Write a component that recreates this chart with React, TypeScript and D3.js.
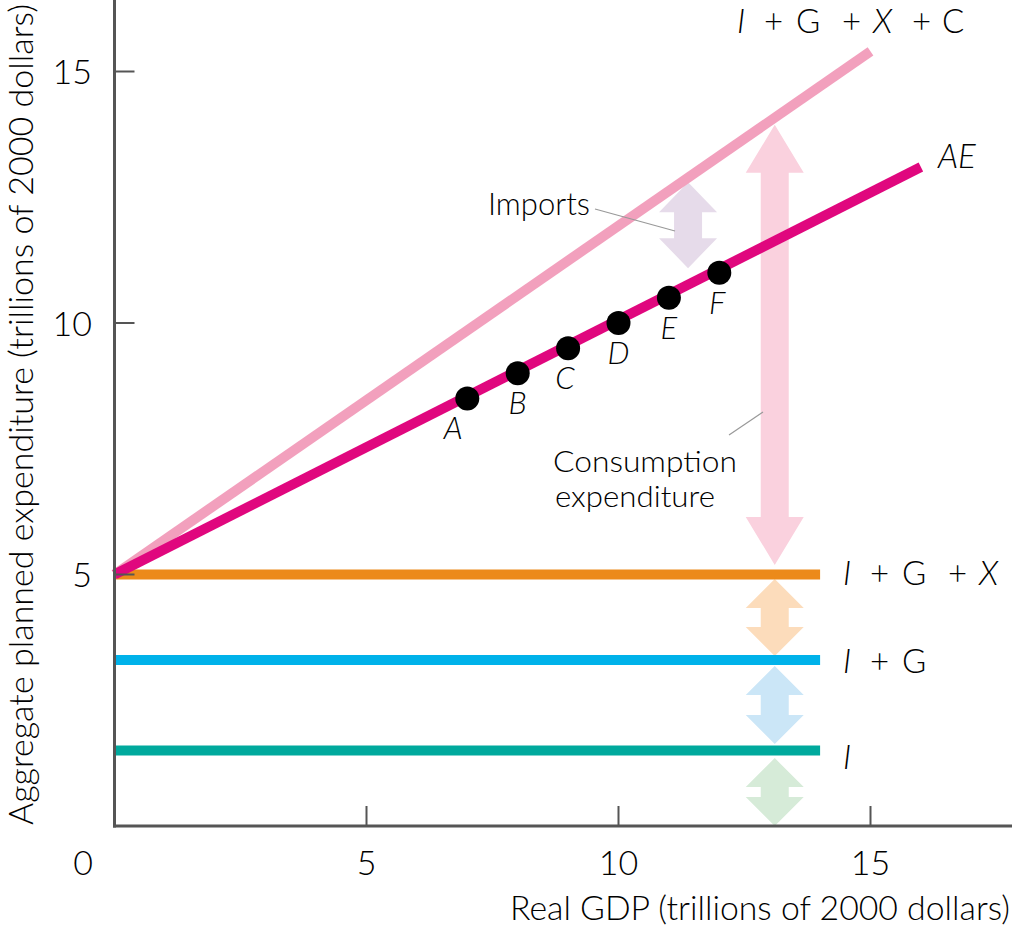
import React from "react";
import * as d3 from "d3";

// ---- data ----
const xTicks = [5, 10, 15];
const yTicks = [5, 10, 15];
const pointLabels = ["A", "B", "C", "D", "E", "F"];
const pointGDP = [7, 8, 9, 10, 11, 12];
const pointAE = [8.5, 9, 9.5, 10, 10.5, 11];
const aeLine: [number, number][] = [[0, 5], [16, 13.1]];
const totalLine: [number, number][] = [[0, 5], [15, 15.4]];
const flatLevels = [5.0, 3.3, 1.5]; // I+G+X, I+G, I
const flatEnd = 14;
// arrows: [x, top, bottom]
const arrowX = [13.1, 11.38, 13.1, 13.1, 13.1];
const arrowTop = [13.94, 12.8, 4.91, 3.18, 1.35];
const arrowBottom = [5.19, 11.09, 3.38, 1.63, 0];
const arrowHead = [48, 30, 29, 29, 29];
const arrowColors = ["#fad1de", "#e6dbea", "#fcdcbb", "#cbe6f7", "#d6ebd8"];
const flatColors = ["#ec8a1a", "#00b2ea", "#00a99d"];
// label pieces: text, italic
const sumPieces: [string, boolean][] = [["I", true], ["+", false], ["G", false], ["+", false], ["X", true], ["+", false], ["C", false]];
const sumOffsets = [0, 27, 59, 105, 136, 175, 205];

const W = 1024;
const H = 926;
const FONT = "Lato, 'Open Sans', sans-serif";

const x = d3.scaleLinear().domain([0, 17.8]).range([114.5, 114.5 + 50.4 * 17.8]);
const y = d3.scaleLinear().domain([0, 826 / 50.3]).range([826, 0]);

function arrowPath(cx: number, yt: number, yb: number, hh: number) {
  const hw = 29, sw = 14;
  const p = d3.path();
  p.moveTo(cx, yt);
  p.lineTo(cx + hw, yt + hh);
  p.lineTo(cx + sw, yt + hh);
  p.lineTo(cx + sw, yb - hh);
  p.lineTo(cx + hw, yb - hh);
  p.lineTo(cx, yb);
  p.lineTo(cx - hw, yb - hh);
  p.lineTo(cx - sw, yb - hh);
  p.lineTo(cx - sw, yt + hh);
  p.lineTo(cx - hw, yt + hh);
  p.closePath();
  return p.toString();
}

const line = d3.line<[number, number]>().x(d => x(d[0])).y(d => y(d[1]));

function SumLabel({ x0, y0, n }: { x0: number; y0: number; n: number }) {
  return (
    <g>
      {sumPieces.slice(0, n).map(([t, it], i) => (
        <text key={i} x={x0 + sumOffsets[i]} y={y0} fontSize={33} fontWeight={300}
          fontStyle={it ? "italic" : "normal"}>{t}</text>
      ))}
    </g>
  );
}

export default function App() {
  const labelDx = [-14, 0, -3, 0, 0, -2];
  return (
    <svg width={W} height={H} style={{ position: "absolute", left: 0, top: 0, background: "#fff" }}
      fontFamily={FONT}>
      {/* arrows */}
      {arrowX.map((ax, i) => (
        <path key={"a" + i} d={arrowPath(x(ax), y(arrowTop[i]), y(arrowBottom[i]), arrowHead[i])}
          fill={arrowColors[i]} />
      ))}
      {/* horizontal lines */}
      {flatLevels.map((lv, i) => (
        <line key={"f" + i} x1={x(0)} x2={x(flatEnd)} y1={y(lv)} y2={y(lv)}
          stroke={flatColors[i]} strokeWidth={10} />
      ))}
      {/* total line */}
      <path d={line(totalLine) || ""} stroke="#f2a0bd" strokeWidth={10} fill="none" />
      {/* AE line */}
      <path d={line(aeLine) || ""} stroke="#e0077e" strokeWidth={10} fill="none" />
      {/* points */}
      {pointGDP.map((g, i) => (
        <g key={"p" + i}>
          <circle cx={x(g)} cy={y(pointAE[i])} r={12} fill="#000" />
          <text x={x(g) + labelDx[i]} y={y(pointAE[i]) + 41} textAnchor="middle" fontSize={31}
            fontStyle="italic" fontWeight={300}>{pointLabels[i]}</text>
        </g>
      ))}
      {/* leader lines */}
      <line x1={595} y1={209} x2={675} y2={231} stroke="#999" strokeWidth={1.2} />
      <line x1={729} y1={435} x2={763} y2={412} stroke="#999" strokeWidth={1.2} />
      {/* axes */}
      <line x1={x(0)} x2={x(0)} y1={0} y2={y(0) + 1.5} stroke="#555" strokeWidth={3} />
      <line x1={x(0) - 1.5} x2={1012} y1={y(0)} y2={y(0)} stroke="#555" strokeWidth={3} />
      {xTicks.map(t => (
        <g key={"xt" + t}>
          <line x1={x(t)} x2={x(t)} y1={y(0)} y2={y(0) - 20} stroke="#555" strokeWidth={2} />
          <text x={x(t)} y={875} textAnchor="middle" fontSize={34} fontWeight={300}>{t}</text>
        </g>
      ))}
      <text x={83} y={875} textAnchor="middle" fontSize={34} fontWeight={300}>0</text>
      {yTicks.map(t => (
        <g key={"yt" + t}>
          <line x1={x(0)} x2={x(0) + 20} y1={y(t)} y2={y(t)} stroke="#555" strokeWidth={2} />
          <text x={92} y={y(t) + 12.5} textAnchor="end" fontSize={34} fontWeight={300}>{t}</text>
        </g>
      ))}
      {/* axis titles */}
      <text x={510} y={920} fontSize={34} fontWeight={300} textLength={500} lengthAdjust="spacingAndGlyphs">
        Real GDP (trillions of 2000 dollars)
      </text>
      <text transform="translate(33,825) rotate(-90)" fontSize={33} fontWeight={300} textLength={821}
        lengthAdjust="spacingAndGlyphs">
        Aggregate planned expenditure (trillions of 2000 dollars)
      </text>
      {/* curve labels */}
      <SumLabel x0={737} y0={33} n={7} />
      <text x={938} y={168} fontSize={33} fontWeight={300} fontStyle="italic">AE</text>
      <SumLabel x0={843} y0={585} n={5} />
      <SumLabel x0={843} y0={673} n={3} />
      <SumLabel x0={843} y0={769} n={1} />
      <text x={488} y={215} fontSize={32} fontWeight={300} textLength={102} lengthAdjust="spacingAndGlyphs">Imports</text>
      <text x={553} y={472} fontSize={30} fontWeight={300} textLength={184} lengthAdjust="spacingAndGlyphs">Consumption</text>
      <text x={555} y={507} fontSize={30} fontWeight={300} textLength={160} lengthAdjust="spacingAndGlyphs">expenditure</text>
    </svg>
  );
}
